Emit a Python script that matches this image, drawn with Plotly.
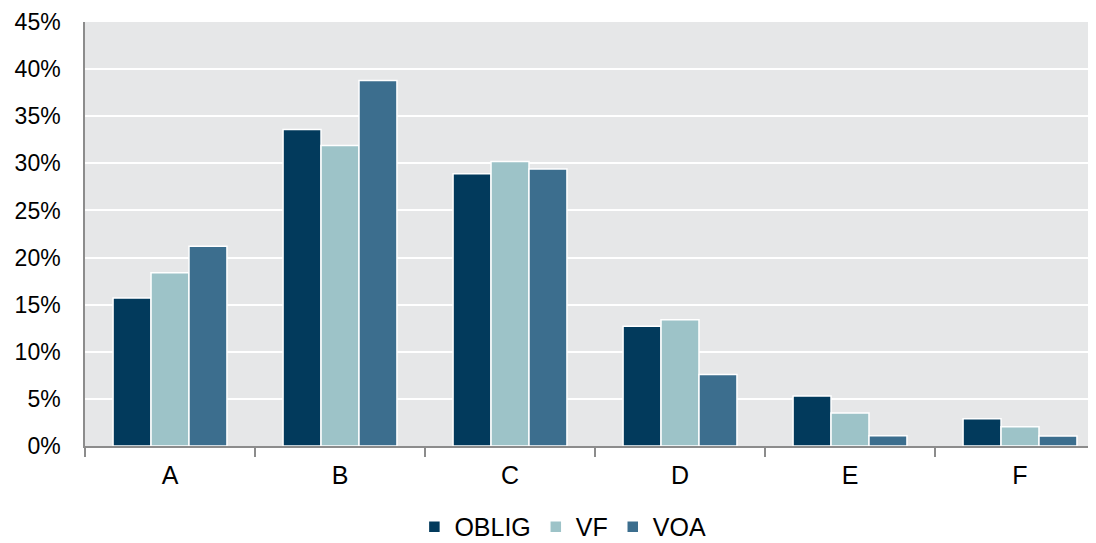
import plotly.graph_objects as go

categories = ["A", "B", "C", "D", "E", "F"]
oblig = [15.7, 33.6, 28.9, 12.7, 5.3, 2.9]
vf = [18.4, 31.9, 30.2, 13.4, 3.5, 2.05]
voa = [21.2, 38.8, 29.4, 7.6, 1.1, 1.05]
y_ticks = [0, 5, 10, 15, 20, 25, 30, 35, 40, 45]
y_tick_labels = [f"{v}%" for v in y_ticks]

series = [("OBLIG", oblig, "#023a5c"), ("VF", vf, "#9dc3c8"), ("VOA", voa, "#3c6e8e")]

fig = go.Figure()
for name, vals, color in series:
    fig.add_trace(go.Bar(
        x=categories, y=vals, name=name,
        marker=dict(color=color, line=dict(color="white", width=1.5)),
    ))

FONT = "Liberation Sans, Arial, sans-serif"
fig.update_layout(
    width=1088, height=535,
    margin=dict(l=77, r=0, t=14, b=97, autoexpand=False),
    paper_bgcolor="white",
    plot_bgcolor="#e6e7e8",
    barmode="group", bargap=0.33, bargroupgap=0,
    font=dict(family=FONT, size=20, color="#000000"),
    showlegend=True,
    legend=dict(orientation="h", xref="container", yref="container",
                x=0.51, xanchor="center", y=0.03, yanchor="middle",
                font=dict(size=25), itemwidth=30, traceorder="normal",
                bgcolor="rgba(0,0,0,0)"),
    xaxis=dict(
        type="category", range=[-0.5, 5.447], automargin=False,
        showline=True, linecolor="#8c8c8c", linewidth=1.5,
        ticks="outside", ticklen=9, tickcolor="#8c8c8c", tickwidth=1.5,
        tickson="boundaries", showgrid=False,
        tickfont=dict(size=25), ticklabelstandoff=6,
    ),
    yaxis=dict(
        range=[0, 45], tickvals=y_ticks, ticktext=y_tick_labels, automargin=False,
        showline=True, linecolor="#8c8c8c", linewidth=1.5,
        gridcolor="white", gridwidth=2,
        ticks="", ticklabelstandoff=18,
        tickfont=dict(size=23), zeroline=False,
    ),
)

fig.write_html("out.html")
